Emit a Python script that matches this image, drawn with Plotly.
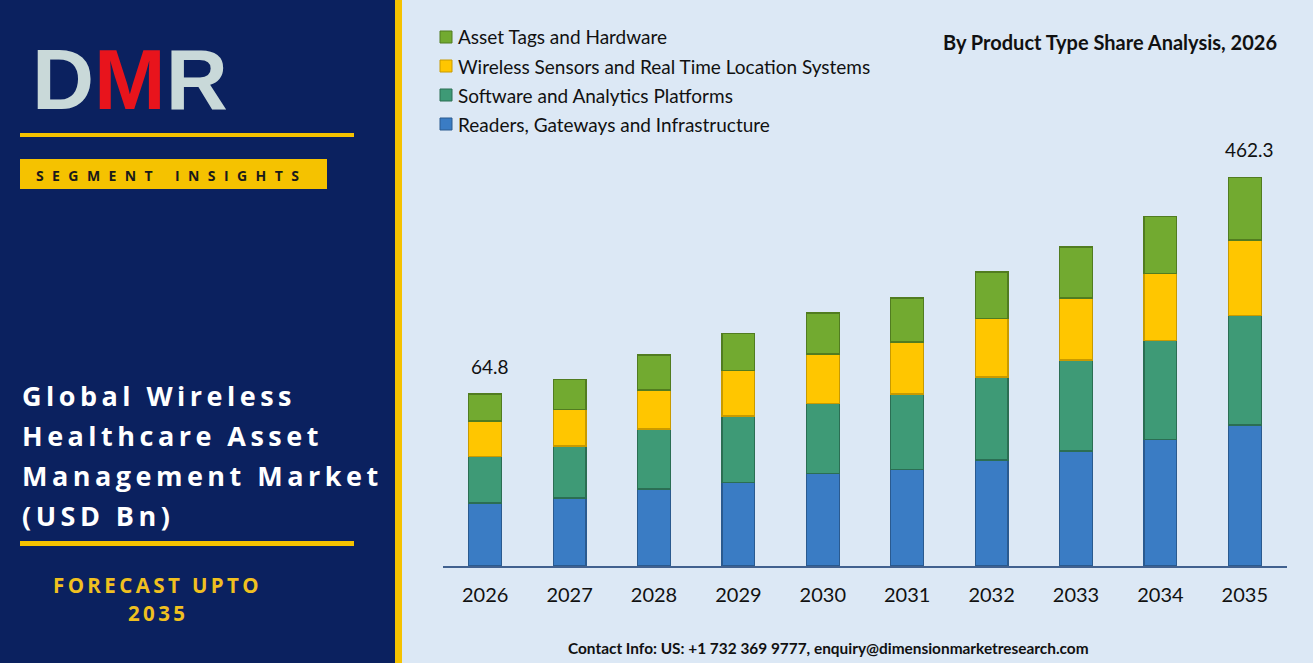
import plotly.graph_objects as go

# ---------------- data ----------------
years = ["2026", "2027", "2028", "2029", "2030", "2031", "2032", "2033", "2034", "2035"]
readers = [23.7, 25.6, 29.0, 31.6, 34.7, 36.5, 39.9, 43.3, 47.8, 53.1]
software = [17.7, 19.6, 22.6, 24.9, 26.4, 28.3, 31.3, 34.3, 37.3, 41.4]
wireless = [13.2, 13.9, 14.7, 17.3, 18.8, 19.6, 21.9, 23.4, 25.2, 28.3]
asset_tags = [10.2, 11.3, 13.2, 13.9, 15.4, 16.6, 17.7, 19.2, 21.5, 23.7]
total_labels = ["64.8", "", "", "", "", "", "", "", "", "462.3"]

series_names = [
    "Readers, Gateways and Infrastructure",
    "Software and Analytics Platforms",
    "Wireless Sensors and Real Time Location Systems",
    "Asset Tags and Hardware",
]
series_values = [readers, software, wireless, asset_tags]
series_colors = ["#3a7cc4", "#3e9a76", "#ffc600", "#72aa30"]
series_edges = ["#2a5a8f", "#2b6e53", "#c89a00", "#517c20"]

W, H = 1313, 668
NAVY = "#0b215f"
YELLOW = "#f5c200"
LIGHT = "#dce8f5"
FONT = "Lato"


def px(x):
    return x / W


def py(y):
    return 1 - y / H


def spaced(s, gap="\u2009"):
    return gap.join(s)


xpos = list(range(len(years)))

fig = go.Figure()

for name, vals, col, edge in zip(series_names, series_values, series_colors, series_edges):
    fig.add_trace(go.Bar(
        x=xpos, y=vals, name=name, width=0.39,
        marker=dict(color=col, line=dict(color=edge, width=1.2)),
        showlegend=False,
    ))

totals = [sum(v) for v in zip(*series_values)]

annotations = []
for xi, tot, lab in zip(xpos, totals, total_labels):
    if lab:
        annotations.append(dict(
            x=xi, y=tot, xref="x", yref="y", text=lab, showarrow=False,
            yanchor="bottom", yshift=14, xshift=5,
            font=dict(family=FONT, size=19, color="#111111"),
        ))

shapes = [
    # panels
    dict(type="rect", xref="paper", yref="paper", x0=0, x1=px(395), y0=py(663), y1=1,
         fillcolor=NAVY, line=dict(width=0), layer="below"),
    dict(type="rect", xref="paper", yref="paper", x0=px(395), x1=px(402), y0=py(663), y1=1,
         fillcolor=YELLOW, line=dict(width=0), layer="below"),
    dict(type="rect", xref="paper", yref="paper", x0=px(402), x1=1, y0=py(663), y1=1,
         fillcolor=LIGHT, line=dict(width=0), layer="below"),
    # yellow rules
    dict(type="rect", xref="paper", yref="paper", x0=px(20), x1=px(354), y0=py(137), y1=py(133),
         fillcolor=YELLOW, line=dict(width=0)),
    dict(type="rect", xref="paper", yref="paper", x0=px(20), x1=px(327), y0=py(189), y1=py(159),
         fillcolor=YELLOW, line=dict(width=0)),
    dict(type="rect", xref="paper", yref="paper", x0=px(20), x1=px(354), y0=py(546), y1=py(541),
         fillcolor=YELLOW, line=dict(width=0)),
]

# manual legend (top to bottom)
legend_order = [3, 2, 1, 0]
for i, idx in enumerate(legend_order):
    yc = 37 + i * 29
    shapes.append(dict(type="rect", xref="paper", yref="paper",
                       x0=px(440), x1=px(452), y0=py(yc + 6), y1=py(yc - 6),
                       fillcolor=series_colors[idx], line=dict(color=series_edges[idx], width=1)))
    annotations.append(dict(x=px(456), y=py(yc), xref="paper", yref="paper",
                            xanchor="left", yanchor="middle", showarrow=False,
                            text=series_names[idx],
                            font=dict(family=FONT, size=19, color="#111111")))

# chart subtitle
annotations.append(dict(x=px(1279), y=py(42), xref="paper", yref="paper",
                        xanchor="right", yanchor="middle", showarrow=False,
                        text="<b>By Product Type Share Analysis, 2026</b>",
                        font=dict(family=FONT, size=20, color="#111111")))

# contact line
annotations.append(dict(x=px(828), y=py(648), xref="paper", yref="paper",
                        xanchor="center", yanchor="middle", showarrow=False,
                        text="<b>Contact Info: US: +1 732 369 9777, enquiry@dimensionmarketresearch.com</b>",
                        font=dict(family=FONT, size=15.4, color="#111111")))

# DMR logo (one text, coloured letters)
annotations.append(dict(x=px(30), y=py(79), xref="paper", yref="paper",
                        xanchor="left", yanchor="middle", showarrow=False,
                        text=("<b><span style='color:#c9d9d9'>D</span>"
                              "<span style='color:#e8141c'>M</span>"
                              "<span style='color:#c9d9d9'>R</span></b>"),
                        font=dict(family="Liberation Sans", size=86, color="#c9d9d9")))

# segment insights
annotations.append(dict(x=px(34), y=py(175), xref="paper", yref="paper",
                        xanchor="left", yanchor="middle", showarrow=False,
                        text="<b>" + spaced("SEGMENT", "\u2002\u200a") + "\u2002\u2002\u2002\u200a" + spaced("INSIGHTS", "\u2002\u200a") + "</b>",
                        font=dict(family="Open Sans", size=14, color="#1a1a1a")))

# title lines
title_lines = ["Global Wireless", "Healthcare Asset", "Management Market", "(USD Bn)"]
for i, line in enumerate(title_lines):
    annotations.append(dict(x=px(20), y=py(395 + 40 * i), xref="paper", yref="paper",
                            xanchor="left", yanchor="middle", showarrow=False,
                            text="<b>" + spaced(line) + "</b>",
                            font=dict(family="Open Sans", size=27, color="#ffffff")))

annotations.append(dict(x=px(156), y=py(585), xref="paper", yref="paper",
                        xanchor="center", yanchor="middle", showarrow=False,
                        text="<b>" + spaced("FORECAST UPTO", "\u2009") + "</b>",
                        font=dict(family="Open Sans", size=20.5, color="#f0c020")))
annotations.append(dict(x=px(156), y=py(613), xref="paper", yref="paper",
                        xanchor="center", yanchor="middle", showarrow=False,
                        text="<b>" + spaced("2035", "\u2009") + "</b>",
                        font=dict(family="Open Sans", size=20.5, color="#f0c020")))

y_top = 150
fig.update_layout(
    width=W, height=H,
    margin=dict(l=0, r=0, t=0, b=0, pad=0, autoexpand=False),
    paper_bgcolor="#ffffff",
    plot_bgcolor="rgba(0,0,0,0)",
    barmode="stack",
    showlegend=False,
    shapes=shapes,
    annotations=annotations,
    xaxis=dict(type="linear", domain=[px(443), px(1287)], range=[-0.5, len(years) - 0.5],
               autorange=False, showgrid=False, zeroline=False,
               tickmode="array", tickvals=xpos, ticktext=years,
               showline=True, linecolor="#41618f", linewidth=2, automargin=False,
               tickfont=dict(family=FONT, size=20, color="#111111"),
               ticks="outside", ticklen=10, tickcolor="rgba(0,0,0,0)", fixedrange=True),
    yaxis=dict(domain=[py(566), py(566 - y_top * 172 / 64.8)], range=[0, y_top], autorange=False,
               visible=False, showgrid=False, zeroline=False, fixedrange=True, automargin=False),
)

fig.write_html("out.html")
